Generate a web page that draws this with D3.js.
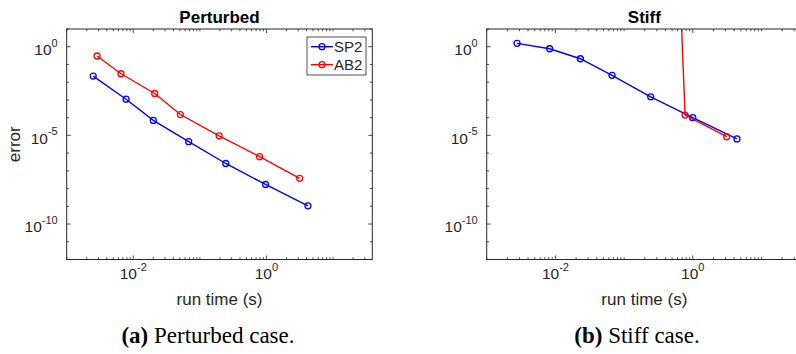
<!DOCTYPE html>
<html><head><meta charset="utf-8">
<script src="https://cdn.jsdelivr.net/npm/d3@7"></script>
<style>
body{margin:0;background:#fff;}
svg{display:block;}
text{font-family:"Liberation Sans",Arial,Helvetica,sans-serif;fill:#262626;}
</style></head>
<body>
<svg id="c" width="796" height="354"></svg>
<script>
// ---- data ----
const seriesNames = ["SP2", "AB2"];
const seriesColors = ["#0000ff", "#ff0000"];

// (a) Perturbed
const pertSP2Time = [0.0025, 0.0078, 0.020, 0.068, 0.245, 0.97, 4.2];
const pertSP2Err  = [0.022, 1.1e-3, 7e-5, 4.4e-6, 2.6e-7, 1.7e-8, 1.07e-9];
const pertAB2Time = [0.00286, 0.00654, 0.021, 0.051, 0.195, 0.79, 3.16];
const pertAB2Err  = [0.30, 0.030, 2.3e-3, 1.5e-4, 9.5e-6, 6.3e-7, 3.8e-8];

// (b) Stiff
const stiffSP2Time = [0.00277, 0.00826, 0.0231, 0.0668, 0.244, 1.0, 4.4];
const stiffSP2Err  = [1.55, 0.77, 0.21, 0.0245, 1.5e-3, 1.0e-4, 6.3e-6];
const stiffAB2Time = [0.195, 0.773, 3.12];
const stiffAB2Err  = [1e54, 1.4e-4, 8.4e-6];

const xDomain = [1e-3, Math.pow(10, 1.59)];
const yDomain = [1e-12, 1e1];
const xMajorTicks = [1e-2, 1];
const xMajorLabels = [["10", "-2"], ["10", "0"]];
const yMajorTicks = [1, 1e-5, 1e-10];
const yMajorLabels = [["10", "0"], ["10", "-5"], ["10", "-10"]];

const titles = ["Perturbed", "Stiff"];
const captionTags = ["(a)", "(b)"];
const captionTexts = [" Perturbed case.", " Stiff case."];
const xLabel = "run time (s)";
const yLabel = "error";

// ---- layout ----
const svg = d3.select("#c");
const axisColor = "#262626";
const panels = [
  {x0: 66.7, x1: 372.3, y0: 29, y1: 259.5,
   series: [[pertSP2Time, pertSP2Err], [pertAB2Time, pertAB2Err]], legend: true, ylabel: true, capX: 208},
  {x0: 486.7, x1: 802, y0: 29, y1: 259.5,
   series: [[stiffSP2Time, stiffSP2Err], [stiffAB2Time, stiffAB2Err]], legend: false, ylabel: false, capX: 637}
];

// minor tick values
const xMinor = [];
for (let n = -3; n <= 1; n++) for (let k = 1; k <= 9; k++) {
  const v = k * Math.pow(10, n);
  if (v >= xDomain[0] && v <= xDomain[1] && !(k === 1 && (n === -2 || n === 0))) xMinor.push(v);
}
const yMinor = [];
for (let n = -12; n <= 1; n++) { if (n % 5 !== 0) yMinor.push(Math.pow(10, n)); }

panels.forEach((p, pi) => {
  const x = d3.scaleLog().domain(xDomain).range([p.x0, p.x1]);
  const y = d3.scaleLog().domain(yDomain).range([p.y1, p.y0]);
  const g = svg.append("g");

  g.append("rect").attr("x", p.x0).attr("y", p.y0).attr("width", p.x1 - p.x0).attr("height", p.y1 - p.y0)
    .attr("fill", "#fff");

  // ticks
  const tk = g.append("g").attr("stroke", axisColor).attr("stroke-width", 0.8);
  const addX = (v, len) => {
    const px = x(v);
    tk.append("line").attr("x1", px).attr("x2", px).attr("y1", p.y1).attr("y2", p.y1 - len);
    tk.append("line").attr("x1", px).attr("x2", px).attr("y1", p.y0).attr("y2", p.y0 + len);
  };
  const addY = (v, len) => {
    const py = y(v);
    tk.append("line").attr("y1", py).attr("y2", py).attr("x1", p.x0).attr("x2", p.x0 + len);
    tk.append("line").attr("y1", py).attr("y2", py).attr("x1", p.x1).attr("x2", p.x1 - len);
  };
  xMinor.forEach(v => addX(v, 2.3));
  xMajorTicks.forEach(v => addX(v, 4));
  yMinor.forEach(v => addY(v, 2.3));
  yMajorTicks.forEach(v => addY(v, 4));

  // tick labels
  xMajorTicks.forEach((v, i) => {
    const t = g.append("text").attr("x", x(v)).attr("y", p.y1 + 19.5)
      .attr("text-anchor", "middle").style("font-size", "15.5px");
    t.append("tspan").text(xMajorLabels[i][0]);
    t.append("tspan").attr("dy", -8.5).style("font-size", "11px").text(xMajorLabels[i][1]);
  });
  yMajorTicks.forEach((v, i) => {
    const t = g.append("text").attr("x", p.x0 - 9).attr("y", y(v) + 8.3)
      .attr("text-anchor", "end").style("font-size", "15.5px");
    t.append("tspan").text(yMajorLabels[i][0]);
    t.append("tspan").attr("dy", -8.5).style("font-size", "11px").text(yMajorLabels[i][1]);
  });

  // frame
  g.append("rect").attr("x", p.x0).attr("y", p.y0).attr("width", p.x1 - p.x0).attr("height", p.y1 - p.y0)
    .attr("fill", "none").attr("stroke", axisColor).attr("stroke-width", 1);

  // data (clipped)
  const cid = "clip" + pi;
  svg.append("clipPath").attr("id", cid).append("rect")
    .attr("x", p.x0).attr("y", p.y0).attr("width", p.x1 - p.x0).attr("height", p.y1 - p.y0);
  const dg = g.append("g").attr("clip-path", `url(#${cid})`);
  const line = d3.line().x(d => x(d[0])).y(d => y(d[1]));
  p.series.forEach((s, si) => {
    const pts = s[0].map((t, i) => [t, s[1][i]]);
    dg.append("path").datum(pts).attr("d", line).attr("fill", "none")
      .attr("stroke", seriesColors[si]).attr("stroke-width", 1.4);
    dg.selectAll(null).data(pts).enter().append("circle")
      .attr("cx", d => x(d[0])).attr("cy", d => y(d[1])).attr("r", 3)
      .attr("fill", "none").attr("stroke", seriesColors[si]).attr("stroke-width", 1.3);
  });

  // title
  g.append("text").attr("x", (p.x0 + p.x1) / 2).attr("y", 22.5).attr("text-anchor", "middle")
    .style("font-size", "17px").style("font-weight", "bold").style("fill", "#000").text(titles[pi]);

  // x label
  g.append("text").attr("x", (p.x0 + p.x1) / 2).attr("y", 304.5).attr("text-anchor", "middle")
    .style("font-size", "17px").text(xLabel);

  if (p.ylabel) {
    g.append("text").attr("transform", `translate(20,${(p.y0 + p.y1) / 2}) rotate(-90)`)
      .attr("text-anchor", "middle").style("font-size", "17px").text(yLabel);
  }

  if (p.legend) {
    const lg = g.append("g");
    lg.append("rect").attr("x", 307).attr("y", 37).attr("width", 59).attr("height", 38)
      .attr("fill", "#fff").attr("stroke", axisColor).attr("stroke-width", 0.8);
    seriesNames.forEach((nm, i) => {
      const ly = 46.7 + i * 18;
      lg.append("line").attr("x1", 311).attr("x2", 333).attr("y1", ly).attr("y2", ly)
        .attr("stroke", seriesColors[i]).attr("stroke-width", 1.4);
      lg.append("circle").attr("cx", 322).attr("cy", ly).attr("r", 3).attr("fill", "none")
        .attr("stroke", seriesColors[i]).attr("stroke-width", 1.3);
      lg.append("text").attr("x", 334).attr("y", ly + 5.3).style("font-size", "15px").text(nm);
    });
  }

  // caption
  const cap = svg.append("text").attr("x", p.capX).attr("y", 343).attr("text-anchor", "middle")
    .style("font-family", "'Liberation Serif','Times New Roman',serif").style("font-size", "23px").style("fill", "#000");
  cap.append("tspan").style("font-weight", "bold").text(captionTags[pi]);
  cap.append("tspan").text(captionTexts[pi]);
});
</script>
</body></html>
